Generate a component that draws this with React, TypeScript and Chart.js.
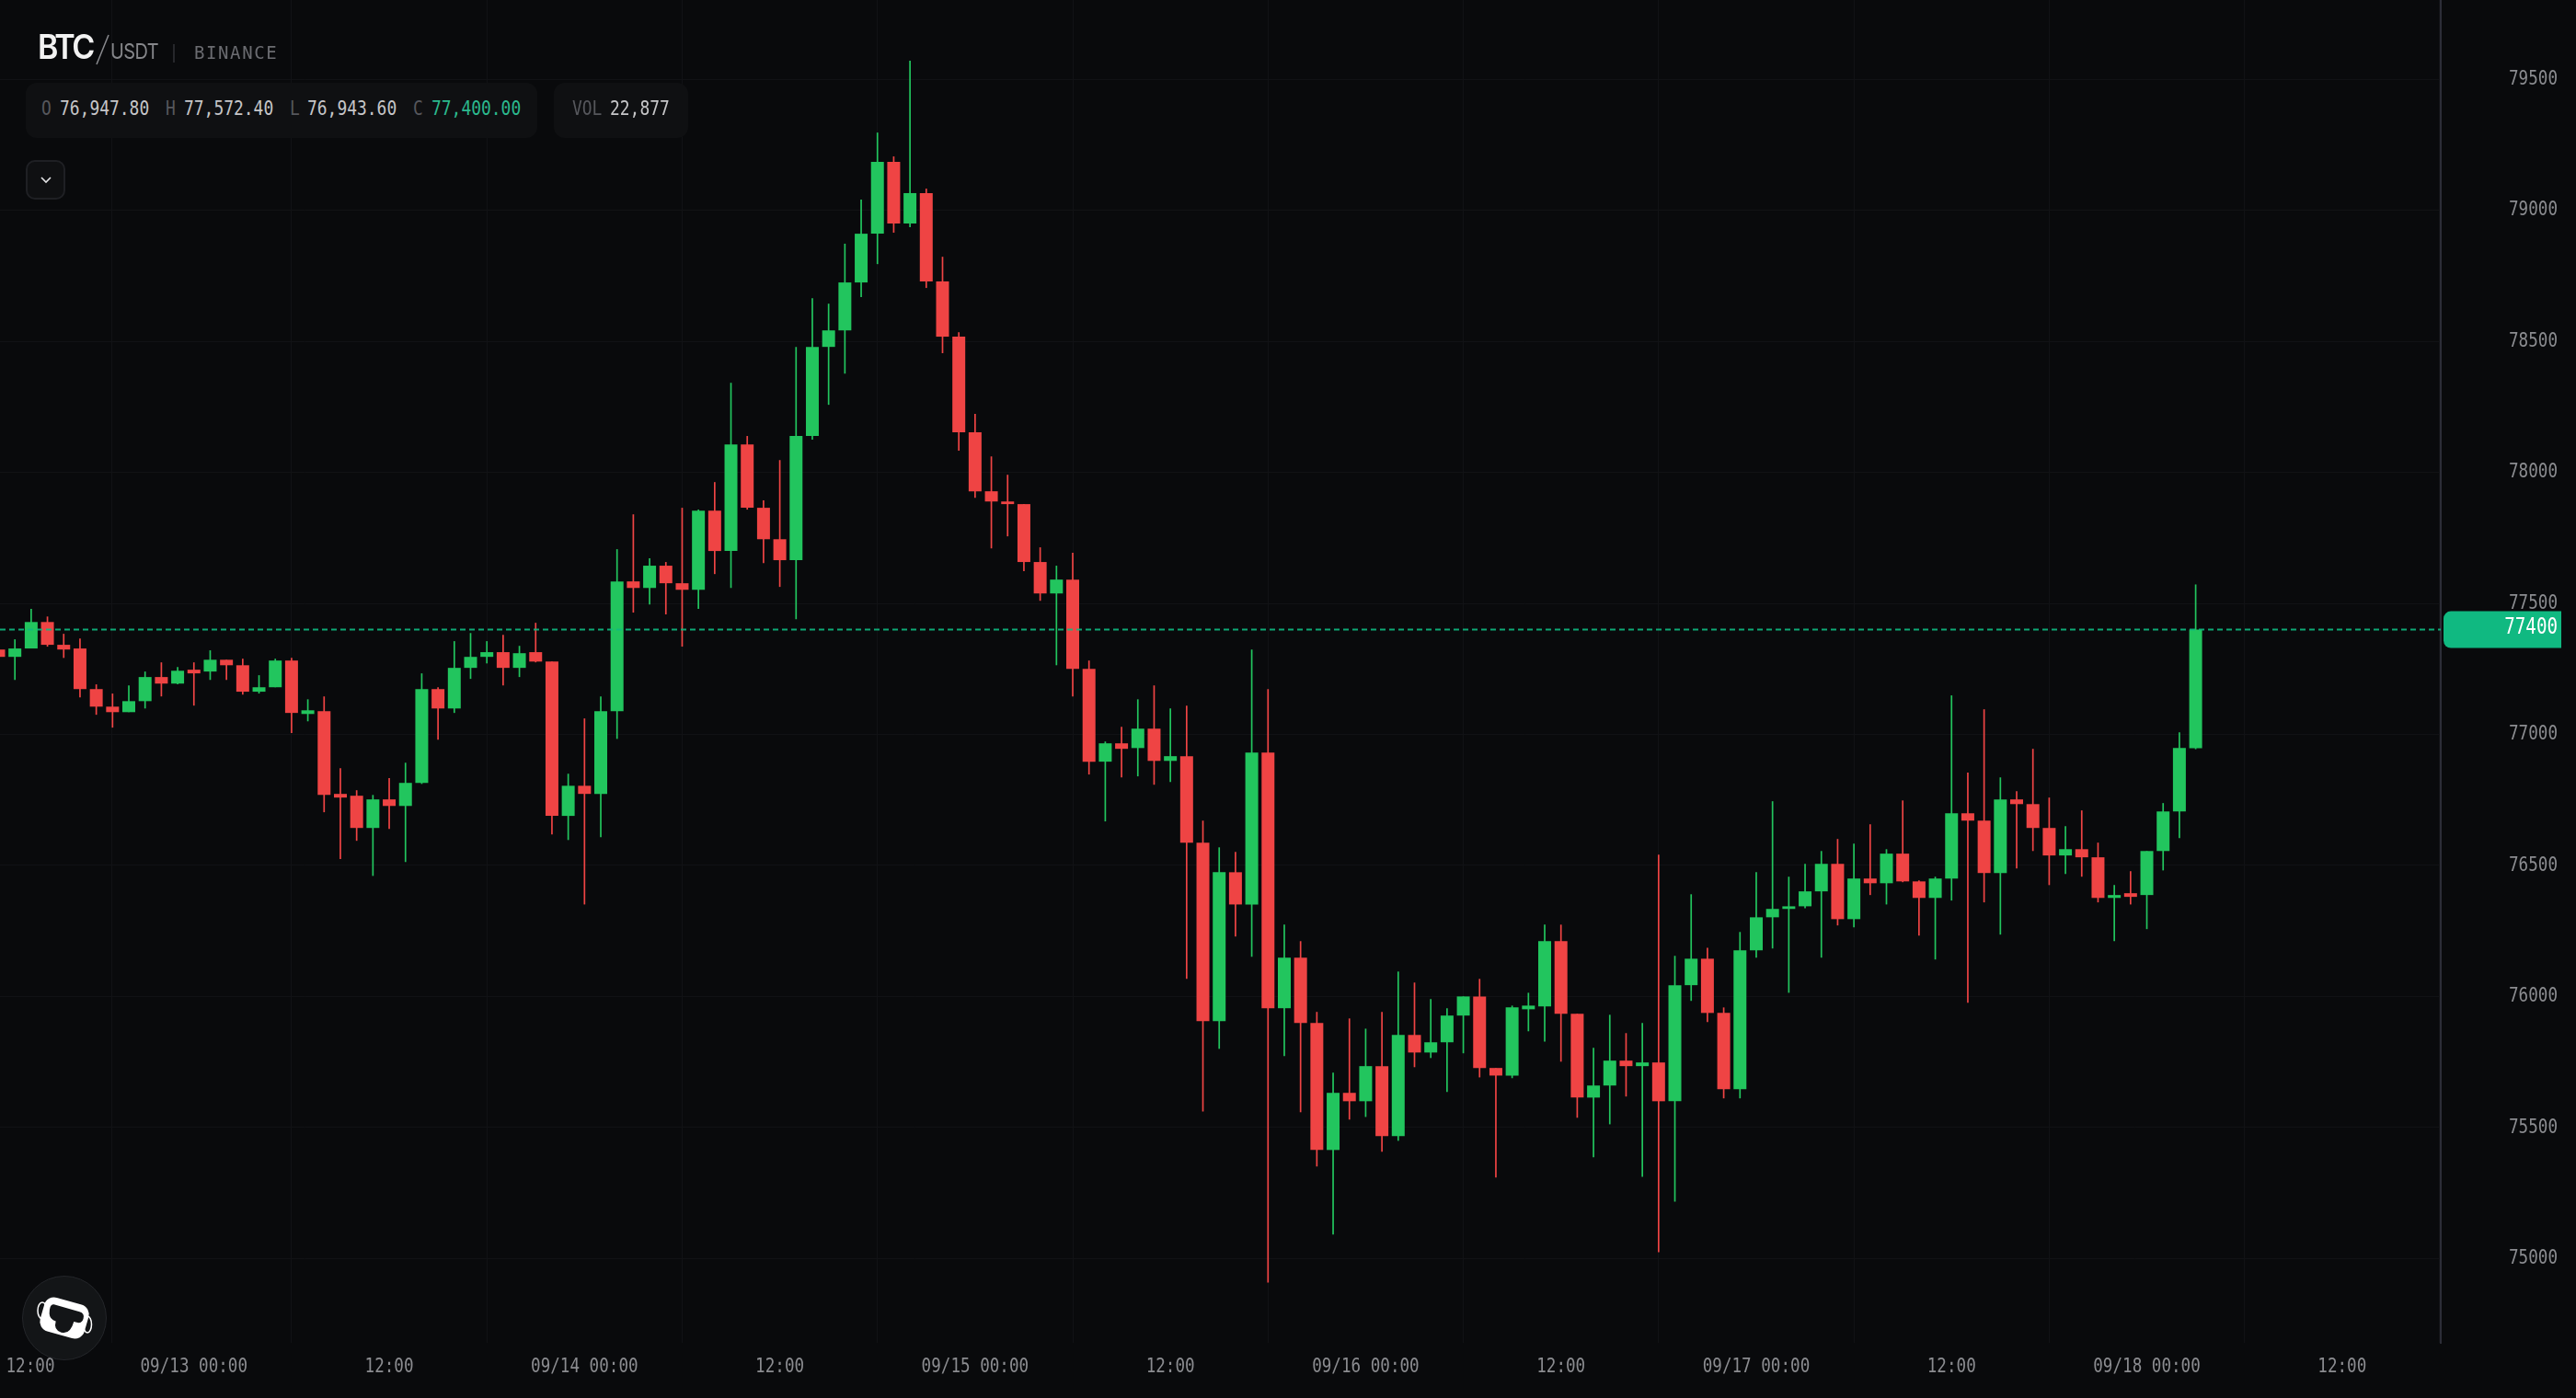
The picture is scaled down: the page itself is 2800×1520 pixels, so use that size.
import React, { useEffect, useRef } from 'react';
import { Chart, registerables } from 'chart.js';

Chart.register(...registerables);

// hourly candles, 09/12 12:00 to 09/18 03:00
const opens = [
  77324, 77296, 77328, 77429, 77342, 77328, 77173, 77106, 77085, 77127, 77219, 77194,
  77247, 77240, 77285, 77264, 77163, 77180, 77282, 77078, 77089, 76773, 76766, 76643,
  76752, 76727, 76815, 77173, 77099, 77254, 77296, 77314, 77254, 77314, 77278, 76689,
  76804, 76773, 77089, 77584, 77559, 77644, 77577, 77552, 77854, 77700, 78107, 77865,
  77745, 77665, 78139, 78479, 78542, 78725, 78911, 79185, 78950, 79066, 78729, 78518,
  78153, 77928, 77889, 77879, 77658, 77538, 77591, 77250, 76896, 76966, 76948, 77022,
  76899, 76917, 76587, 75906, 76474, 76351, 76931, 75955, 76148, 75899, 75414, 75632,
  75600, 75734, 75467, 75853, 75786, 75825, 75927, 76000, 75727, 75698, 75951, 75962,
  76211, 75934, 75614, 75660, 75755, 75734, 75748, 75600, 76043, 76144, 75937, 75646,
  76176, 76302, 76334, 76344, 76401, 76506, 76295, 76450, 76432, 76545, 76439, 76376,
  76450, 76699, 76671, 76471, 76752, 76734, 76643, 76538, 76562, 76531, 76376, 76394,
  76387, 76555, 76706, 76947.8,
];
const highs = [
  77335, 77363, 77479, 77450, 77384, 77366, 77191, 77156, 77187, 77240, 77275, 77257,
  77275, 77321, 77285, 77289, 77226, 77289, 77292, 77134, 77145, 76871, 76787, 76769,
  76833, 76892, 77233, 77180, 77356, 77387, 77356, 77380, 77338, 77426, 77278, 76850,
  77061, 77145, 77707, 77840, 77672, 77658, 77865, 77858, 77963, 78342, 78139, 77893,
  78047, 78479, 78665, 78644, 78873, 79041, 79297, 79206, 79571, 79083, 78823, 78535,
  78223, 78061, 77991, 77879, 77714, 77644, 77693, 77282, 76973, 77029, 77134, 77187,
  77099, 77110, 76671, 76569, 76552, 77324, 77173, 76274, 76211, 75941, 75709, 75916,
  75877, 75941, 76095, 76053, 75990, 75955, 76000, 76067, 75727, 75965, 76014, 76274,
  76274, 75934, 75804, 75930, 75860, 75899, 76541, 76155, 76390, 76186, 75958, 76246,
  76474, 76745, 76457, 76506, 76555, 76601, 76583, 76657, 76562, 76748, 76443, 76457,
  77149, 76854, 77096, 76836, 76783, 76945, 76759, 76650, 76710, 76587, 76425, 76478,
  76555, 76738, 77008, 77572.4,
];
const lows = [
  77250, 77208, 77328, 77335, 77292, 77141, 77075, 77026, 77085, 77099, 77145, 77191,
  77110, 77208, 77208, 77152, 77156, 77180, 77005, 77050, 76703, 76524, 76594, 76460,
  76639, 76513, 76811, 76980, 77082, 77212, 77271, 77187, 77219, 77275, 76618, 76597,
  76351, 76608, 76983, 77465, 77496, 77458, 77335, 77479, 77612, 77559, 77858, 77654,
  77563, 77440, 78125, 78258, 78377, 78669, 78795, 78915, 78936, 78704, 78455, 78083,
  77903, 77710, 77756, 77623, 77510, 77264, 77145, 76847, 76668, 76836, 76840, 76808,
  76818, 76067, 75561, 75800, 76229, 76151, 74908, 75772, 75558, 75351, 75091, 75530,
  75540, 75407, 75449, 75730, 75765, 75635, 75783, 75691, 75309, 75688, 75867, 75828,
  75751, 75537, 75386, 75512, 75618, 75312, 75024, 75217, 75983, 75902, 75611, 75611,
  76148, 76183, 76014, 76337, 76148, 76271, 76264, 76387, 76351, 76436, 76232, 76141,
  76366, 75976, 76359, 76236, 76488, 76555, 76425, 76467, 76457, 76359, 76211, 76351,
  76257, 76481, 76604, 76943.6,
];
const closes = [
  77296, 77328, 77429, 77342, 77324, 77173, 77106, 77085, 77127, 77219, 77194, 77243,
  77233, 77285, 77264, 77163, 77180, 77282, 77082, 77092, 76769, 76759, 76643, 76752,
  76727, 76815, 77173, 77099, 77254, 77296, 77314, 77254, 77310, 77278, 76689, 76804,
  76773, 77089, 77584, 77559, 77644, 77577, 77552, 77854, 77700, 78107, 77865, 77745,
  77665, 78139, 78479, 78542, 78725, 78911, 79185, 78950, 79066, 78729, 78518, 78153,
  77928, 77889, 77879, 77658, 77538, 77591, 77250, 76896, 76966, 76945, 77022, 76899,
  76917, 76587, 75906, 76474, 76351, 76931, 75955, 76148, 75899, 75414, 75632, 75600,
  75734, 75467, 75853, 75786, 75825, 75927, 76000, 75727, 75698, 75958, 75965, 76211,
  75934, 75614, 75660, 75755, 75734, 75748, 75600, 76043, 76144, 75937, 75646, 76176,
  76302, 76334, 76344, 76401, 76506, 76295, 76450, 76432, 76545, 76439, 76376, 76450,
  76699, 76671, 76471, 76752, 76734, 76643, 76538, 76562, 76531, 76376, 76387, 76380,
  76555, 76706, 76948, 77400,
];
const priceTicks = [75000, 75500, 76000, 76500, 77000, 77500, 78000, 78500, 79000, 79500];
const timeLabels = [
  '12:00', '09/13 00:00', '12:00', '09/14 00:00', '12:00', '09/15 00:00', '12:00',
  '09/16 00:00', '12:00', '09/17 00:00', '12:00', '09/18 00:00', '12:00',
];
const lastPrice = 77400;

const UP = '#22c55e';
const DOWN = '#ef4444';
const TEAL = '#10b981';
const BG = '#090a0c';
const GRID = '#111215';
const MONO = '"DejaVu Sans Mono", monospace';
const TEXT_SQUEEZE = 0.8;

// hour axis: one candle is one unit
const X_MIN = 0.085;
const X_MAX = 150.06;
const FIRST_TICK = 1.95; // the 12:00 label sits inside the left edge

const isUp = opens.map((o, i) => closes[i] >= o);
const candleColors = isUp.map(up => (up ? UP : DOWN));

const priceTag = {
  id: 'priceTag',
  afterDraw(chart: any) {
    const { ctx, scales } = chart;
    const y = scales.y.getPixelForValue(lastPrice);
    ctx.save();
    ctx.fillStyle = TEAL;
    ctx.beginPath();
    ctx.roundRect(2656, y - 20, 128, 40, [8, 0, 0, 8]);
    ctx.fill();
    ctx.fillStyle = '#ffffff';
    ctx.font = `500 24px ${MONO}`;
    ctx.textAlign = 'right';
    ctx.textBaseline = 'middle';
    ctx.fillText(String(lastPrice), 2780, y - 2);
    ctx.restore();
  },
};

const Mono = ({ x, color, children }: { x: number; color: string; children: React.ReactNode }) => (
  <span
    style={{
      position: 'absolute', left: x, top: 106, fontFamily: MONO, fontSize: 20.5, lineHeight: '24px',
      color, whiteSpace: 'nowrap', transform: 'scaleX(0.875)', transformOrigin: 'left center',
    }}
  >
    {children}
  </span>
);

const Logo = () => (
  <svg width={92} height={92} viewBox="0 0 92 92" style={{ position: 'absolute', left: 24, top: 1387 }}>
    <circle cx={46} cy={46} r={45.5} fill="#131517" stroke="#24262a" />
    <ellipse cx={22} cy={38} rx={5} ry={9} fill="none" stroke="#fff" strokeWidth={1.5} />
    <ellipse cx={71} cy={53} rx={4.5} ry={9} fill="none" stroke="#fff" strokeWidth={1.5} />
    <g transform="rotate(16 46 46)">
      <rect x={21} y={27} width={50} height={38} rx={11} fill="#fff" />
      <path
        d="M31 35 H60 Q66 35 66 41 Q66 47 60 47 H57 Q57 62 47 62 Q38 62 38 52 Q31 52 29 46 Q26 35 31 35 Z"
        fill="#131517"
      />
    </g>
  </svg>
);

const App: React.FC = () => {
  const canvasRef = useRef<HTMLCanvasElement>(null);

  useEffect(() => {
    if (!canvasRef.current) return;
    document.body.style.margin = '0';
    document.body.style.background = BG;

    // the axis font of the original is narrower than any installed mono
    const ctx2d = canvasRef.current.getContext('2d') as any;
    const rawFill = ctx2d.fillText.bind(ctx2d);
    ctx2d.fillText = (text: string, x: number, y: number) => {
      ctx2d.save();
      ctx2d.scale(TEXT_SQUEEZE, 1);
      rawFill(text, x / TEXT_SQUEEZE, y);
      ctx2d.restore();
    };

    const chart = new Chart(canvasRef.current, {
      type: 'bar',
      data: {
        datasets: [
          {
            type: 'line',
            data: [{ x: X_MIN, y: lastPrice }, { x: X_MAX, y: lastPrice }],
            borderColor: 'rgba(16, 185, 129, 0.9)',
            borderWidth: 2,
            borderDash: [6, 4],
            pointRadius: 0,
            order: 0,
          },
          {
            data: opens.map((o, i) => ({ x: i, y: [o, closes[i]] })),
            backgroundColor: candleColors,
            barThickness: 14,
            order: 1,
          },
          {
            data: lows.map((l, i) => ({ x: i, y: [l, highs[i]] })),
            backgroundColor: candleColors,
            barThickness: 1.7,
            order: 2,
          },
        ] as any,
      },
      options: {
        responsive: true,
        maintainAspectRatio: false,
        animation: false,
        devicePixelRatio: 1,
        datasets: { bar: { grouped: false, borderSkipped: false, inflateAmount: 0 } },
        layout: { autoPadding: false, padding: { right: 20 } },
        plugins: { legend: { display: false }, tooltip: { enabled: false } },
        scales: {
          x: {
            type: 'linear',
            offset: false,
            min: X_MIN,
            max: X_MAX,
            afterBuildTicks: (scale: any) => {
              scale.ticks = timeLabels.map((_, k) => ({ value: k === 0 ? FIRST_TICK : k * 12 }));
            },
            afterFit: (scale: any) => {
              scale.height = 60;
              scale.paddingLeft = 0;
              scale.paddingRight = 0;
            },
            border: { display: false },
            grid: {
              color: (c: any) => (c.index === 0 ? 'transparent' : GRID),
              drawTicks: false,
              lineWidth: 1,
            },
            ticks: {
              autoSkip: false,
              maxRotation: 0,
              padding: 13,
              color: '#8b8c90',
              font: { family: MONO, size: 22 },
              callback: (_v: any, i: number) => timeLabels[i],
            },
          },
          y: {
            position: 'right',
            min: 74678,
            max: 79803,
            afterBuildTicks: (scale: any) => {
              scale.ticks = priceTicks.map(value => ({ value }));
            },
            afterFit: (scale: any) => {
              scale.width = 127;
              scale.paddingTop = 0;
              scale.paddingBottom = 0;
            },
            border: { color: '#2c2d37', width: 2 },
            grid: { color: GRID, drawTicks: false, lineWidth: 1 },
            ticks: {
              crossAlign: 'far',
              color: '#8b8c90',
              font: { family: MONO, size: 22 },
              callback: (v: any) => String(v),
            },
          },
        },
      } as any,
      plugins: [priceTag],
    });

    return () => chart.destroy();
  }, []);

  return (
    <div style={{ position: 'relative', width: 2800, height: 1520, background: BG, overflow: 'hidden' }}>
      <canvas ref={canvasRef}></canvas>

      <div style={{ position: 'absolute', left: 41, top: 28, fontFamily: 'Inter', fontWeight: 600, fontSize: 37, lineHeight: '46px', letterSpacing: -2.5, color: '#f2f2f2', transform: 'scaleX(0.92)', transformOrigin: 'left center' }}>BTC</div>
      <svg width={30} height={40} style={{ position: 'absolute', left: 100, top: 34 }}>
        <line x1={18} y1={4} x2={5} y2={36} stroke="#8a8b8f" strokeWidth={1.5} />
      </svg>
      <div style={{ position: 'absolute', left: 120, top: 42, fontFamily: 'Inter', fontSize: 23.5, lineHeight: '28px', letterSpacing: -0.7, color: '#85868a', transform: 'scaleX(0.85)', transformOrigin: 'left center' }}>USDT</div>
      <div style={{ position: 'absolute', left: 188, top: 48, width: 1.5, height: 20, background: '#26272b' }} />
      <div style={{ position: 'absolute', left: 211, top: 45, fontFamily: MONO, fontSize: 19, lineHeight: '24px', letterSpacing: 1.6, color: '#6b6c71', whiteSpace: 'nowrap' }}>BINANCE</div>

      <div style={{ position: 'absolute', left: 28, top: 90, width: 556, height: 60, borderRadius: 12, background: '#0f1012' }} />
      <div style={{ position: 'absolute', left: 602, top: 90, width: 146, height: 60, borderRadius: 12, background: '#0f1012' }} />
      <Mono x={45} color="#56575c">O</Mono>
      <Mono x={65} color="#c6c6c8">76,947.80</Mono>
      <Mono x={180} color="#56575c">H</Mono>
      <Mono x={200} color="#c6c6c8">77,572.40</Mono>
      <Mono x={315} color="#56575c">L</Mono>
      <Mono x={334} color="#c6c6c8">76,943.60</Mono>
      <Mono x={449} color="#56575c">C</Mono>
      <Mono x={469} color="#2bb98e">77,400.00</Mono>
      <Mono x={622} color="#56575c">VOL</Mono>
      <Mono x={663} color="#c6c6c8">22,877</Mono>

      <div style={{ position: 'absolute', left: 28, top: 174, width: 43, height: 43, boxSizing: 'border-box', borderRadius: 10, border: '2px solid #1f2024', background: '#0f1012' }} />
      <svg width={14} height={10} style={{ position: 'absolute', left: 43, top: 191 }}>
        <polyline points="2,2 7,7 12,2" fill="none" stroke="#e4e4e6" strokeWidth={1.6} />
      </svg>

      <Logo />
    </div>
  );
};

export default App;
